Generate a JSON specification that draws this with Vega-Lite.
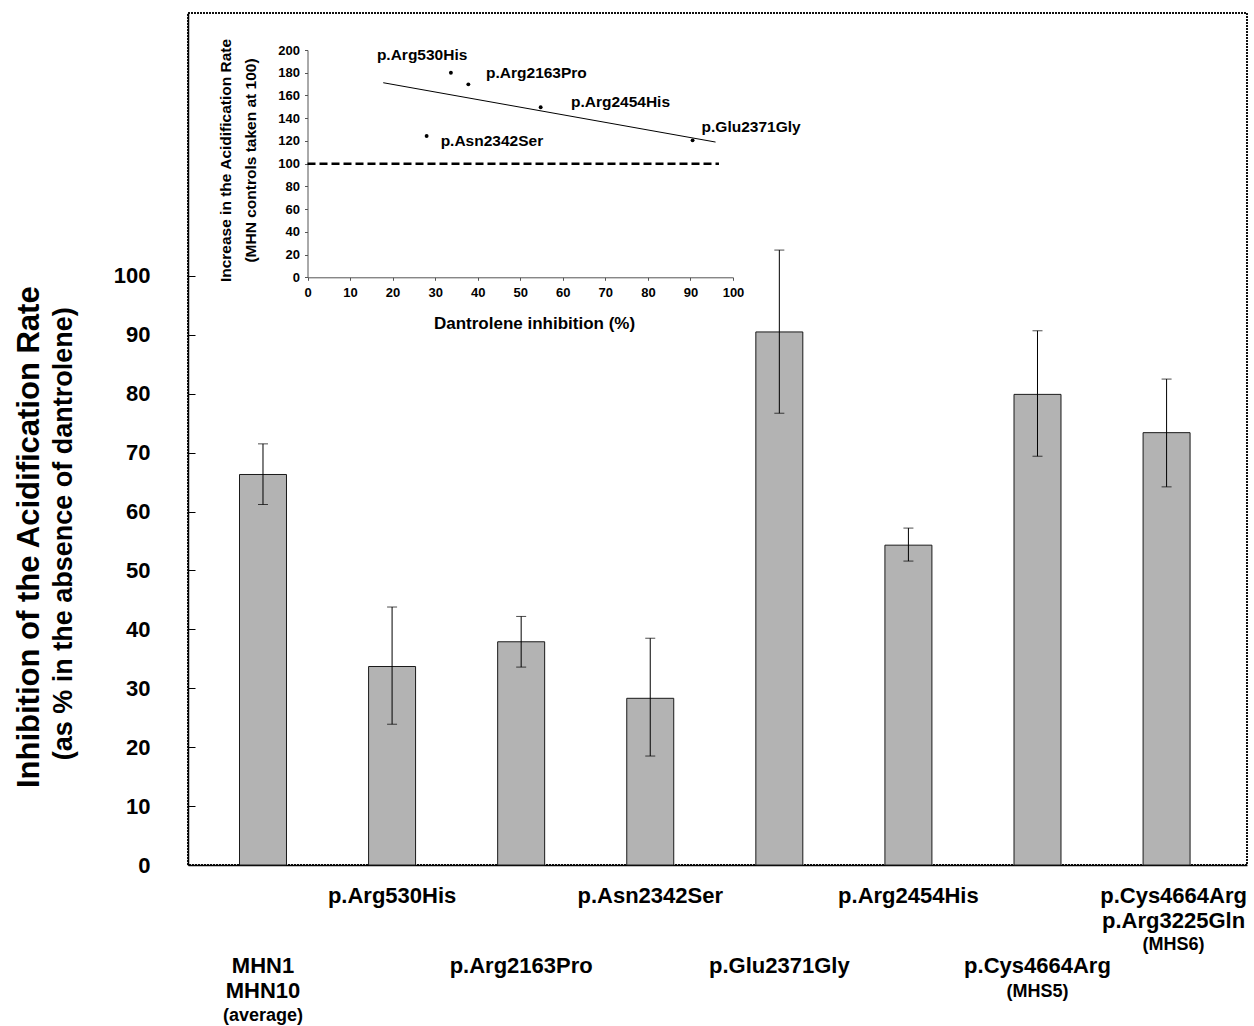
{
  "$schema": "https://vega.github.io/schema/vega-lite/v6.json",
  "width": 1059,
  "height": 852,
  "autosize": {"type": "none"},
  "padding": {"left": 188, "top": 13, "right": 7, "bottom": 161},
  "background": "white",
  "config": {
    "font": "Liberation Sans",
    "view": {"stroke": "#111111", "strokeWidth": 2, "strokeDash": [2, 1]},
    "axis": {
      "labelFont": "Liberation Sans",
      "titleFont": "Liberation Sans",
      "labelFontWeight": "bold",
      "titleFontWeight": "bold",
      "labelColor": "black",
      "titleColor": "black",
      "grid": false
    }
  },
  "datasets": {
    "bars": [
      {"group": "MHN1 MHN10 (average)", "value": 66.3, "lo": 61.2, "hi": 71.5},
      {"group": "p.Arg530His", "value": 33.7, "lo": 23.9, "hi": 43.8},
      {"group": "p.Arg2163Pro", "value": 37.9, "lo": 33.6, "hi": 42.2},
      {"group": "p.Asn2342Ser", "value": 28.3, "lo": 18.5, "hi": 38.5},
      {"group": "p.Glu2371Gly", "value": 90.5, "lo": 76.7, "hi": 104.4},
      {"group": "p.Arg2454His", "value": 54.3, "lo": 51.6, "hi": 57.2},
      {"group": "p.Cys4664Arg (MHS5)", "value": 79.9, "lo": 69.4, "hi": 90.7},
      {"group": "p.Cys4664Arg p.Arg3225Gln (MHS6)", "value": 73.4, "lo": 64.2, "hi": 82.5}
    ],
    "inset": [
      {"kind": "point", "name": "p.Arg530His", "dantrolene": 33.7, "increase": 180},
      {"kind": "point", "name": "p.Arg2163Pro", "dantrolene": 37.8, "increase": 169.8},
      {"kind": "point", "name": "p.Arg2454His", "dantrolene": 54.8, "increase": 149.6},
      {"kind": "point", "name": "p.Glu2371Gly", "dantrolene": 90.5, "increase": 120.5},
      {"kind": "point", "name": "p.Asn2342Ser", "dantrolene": 28, "increase": 124.3},
      {"kind": "fit", "name": "fit", "dantrolene": 17.8, "increase": 171.2},
      {"kind": "fit", "name": "fit", "dantrolene": 95.9, "increase": 119.0},
      {"kind": "ref", "name": "ref", "dantrolene": 0, "increase": 100},
      {"kind": "ref", "name": "ref", "dantrolene": 96.7, "increase": 100}
    ]
  },
  "layer": [
    {
      "data": {"name": "bars"},
      "layer": [
        {
          "mark": {"type": "bar", "fill": "#b3b3b3", "stroke": "#1a1a1a", "strokeWidth": 1},
          "encoding": {
            "x": {
              "field": "group", "type": "nominal", "sort": null,
              "scale": {"paddingInner": 0.636, "paddingOuter": 0.42, "align": 0.475},
              "axis": {
                "orient": "bottom", "title": null, "domain": true, "domainColor": "black", "domainWidth": 1.5,
                "ticks": false, "labelAngle": 0, "labelFontSize": 22, "labelBaseline": "top", "labelAlign": "center",
                "labelLineHeight": 25, "labelOverlap": false, "labelBound": false, "labelFlush": false, "labelLimit": 400,
                "labelPadding": {"condition": {"test": "indexof(['MHN1 MHN10 (average)', 'p.Arg2163Pro', 'p.Glu2371Gly', 'p.Cys4664Arg (MHS5)'], datum.value) >= 0", "value": 90.5}, "value": 20.5},
                "labelOffset": {"condition": {"test": "datum.value == 'p.Cys4664Arg p.Arg3225Gln (MHS6)'", "value": 7}, "value": 0},
                "labelExpr": "datum.value == 'MHN1 MHN10 (average)' ? ['MHN1', 'MHN10'] : datum.value == 'p.Cys4664Arg p.Arg3225Gln (MHS6)' ? ['p.Cys4664Arg', 'p.Arg3225Gln'] : datum.value == 'p.Cys4664Arg (MHS5)' ? 'p.Cys4664Arg' : datum.value"
              }
            },
            "y": {
              "field": "value", "type": "quantitative",
              "scale": {"domain": [0, 144.65], "nice": false, "zero": true},
              "axis": {
                "orient": "left", "title": "Inhibition of the Acidification Rate", "titleFontSize": 31,
                "titleX": -149.7, "titleY": 523.7, "titleAngle": -90, "titleBaseline": "alphabetic", "titleAlign": "center",
                "values": [0, 10, 20, 30, 40, 50, 60, 70, 80, 90, 100],
                "domain": true, "domainColor": "black", "domainWidth": 1.5,
                "ticks": true, "tickSize": -7, "tickColor": "black", "tickWidth": 1,
                "labelFontSize": 22, "labelPadding": 45, "labelAlign": "right", "labelBaseline": "middle"
              }
            }
          }
        },
        {
          "mark": {"type": "rule", "color": "black", "strokeWidth": 1},
          "encoding": {
            "x": {
              "field": "group", "type": "nominal", "sort": null,
              "axis": {
                "orient": "bottom", "title": null, "domain": false, "ticks": false, "labelAngle": 0,
                "labelFontSize": 18, "labelBaseline": "top", "labelAlign": "center",
                "labelOverlap": false, "labelBound": false, "labelFlush": false, "labelLimit": 400,
                "labelPadding": {"condition": [{"test": "datum.value == 'MHN1 MHN10 (average)'", "value": 141}, {"test": "datum.value == 'p.Cys4664Arg (MHS5)'", "value": 117}], "value": 70},
                "labelOffset": {"condition": {"test": "datum.value == 'p.Cys4664Arg p.Arg3225Gln (MHS6)'", "value": 7}, "value": 0},
                "labelExpr": "datum.value == 'MHN1 MHN10 (average)' ? '(average)' : datum.value == 'p.Cys4664Arg (MHS5)' ? '(MHS5)' : datum.value == 'p.Cys4664Arg p.Arg3225Gln (MHS6)' ? '(MHS6)' : ''"
              }
            },
            "y": {
              "field": "lo", "type": "quantitative",
              "scale": {"domain": [0, 144.65], "nice": false, "zero": true},
              "axis": {
                "orient": "left", "title": "(as % in the absence of dantrolene)", "titleFontSize": 27,
                "titleX": -116.3, "titleY": 520.3, "titleAngle": -90, "titleBaseline": "alphabetic", "titleAlign": "center",
                "domain": false, "ticks": false, "labels": false
              }
            },
            "y2": {"field": "hi"}
          }
        },
        {
          "mark": {"type": "tick", "color": "black", "size": 10, "thickness": 1},
          "encoding": {
            "x": {"field": "group", "type": "nominal", "sort": null, "axis": null},
            "y": {"field": "hi", "type": "quantitative", "scale": {"domain": [0, 144.65], "nice": false, "zero": true}, "axis": null}
          }
        },
        {
          "mark": {"type": "tick", "color": "black", "size": 10, "thickness": 1},
          "encoding": {
            "x": {"field": "group", "type": "nominal", "sort": null, "axis": null},
            "y": {"field": "lo", "type": "quantitative", "scale": {"domain": [0, 144.65], "nice": false, "zero": true}, "axis": null}
          }
        }
      ],
      "resolve": {"axis": {"x": "independent", "y": "independent"}}
    },
    {
      "data": {"name": "inset"},
      "layer": [
        {
          "transform": [{"filter": "datum.kind == 'ref'"}],
          "mark": {"type": "line", "color": "black", "strokeWidth": 2.5, "strokeDash": [8, 4]},
          "encoding": {
            "x": {
              "field": "dantrolene", "type": "quantitative",
              "scale": {"domain": [0, 100], "range": [119.5, 545], "nice": false, "zero": true},
              "axis": {
                "orient": "bottom", "offset": -587.7, "values": [0, 10, 20, 30, 40, 50, 60, 70, 80, 90, 100],
                "domainColor": "#555555", "tickColor": "#555555", "tickSize": 3, "labelFontSize": 13, "labelPadding": 6.5,
                "labelFlush": false, "labelOverlap": false,
                "title": "Dantrolene inhibition (%)", "titleFontSize": 17, "titleX": 346, "titleY": 38.4, "titleBaseline": "top", "titleAlign": "center"
              }
            },
            "y": {
              "field": "increase", "type": "quantitative",
              "scale": {"domain": [0, 200], "range": [264.3, 37], "nice": false, "zero": true},
              "axis": {
                "orient": "left", "offset": -119.5, "values": [0, 20, 40, 60, 80, 100, 120, 140, 160, 180, 200],
                "domainColor": "#555555", "tickColor": "#555555", "tickSize": 3, "labelFontSize": 13, "labelPadding": 5,
                "labelFlush": false, "labelOverlap": false,
                "title": ["Increase in the Acidification Rate", "(MHN controls taken at 100)"], "titleFontSize": 15.5,
                "titleLineHeight": 25, "titleX": -77.5, "titleY": 147, "titleAngle": -90, "titleBaseline": "alphabetic", "titleAlign": "center"
              }
            }
          }
        },
        {
          "transform": [{"filter": "datum.kind == 'fit'"}],
          "mark": {"type": "line", "color": "black", "strokeWidth": 1},
          "encoding": {
            "x": {"field": "dantrolene", "type": "quantitative"},
            "y": {"field": "increase", "type": "quantitative"}
          }
        },
        {
          "transform": [{"filter": "datum.kind == 'point'"}],
          "mark": {"type": "circle", "color": "black", "size": 15, "opacity": 1},
          "encoding": {
            "x": {"field": "dantrolene", "type": "quantitative"},
            "y": {"field": "increase", "type": "quantitative"}
          }
        },
        {
          "transform": [{"filter": "datum.name == 'p.Arg530His'"}],
          "mark": {"type": "text", "align": "left", "baseline": "middle", "fontSize": 15.5, "fontWeight": "bold", "color": "black", "dx": -74, "dy": -17.7},
          "encoding": {
            "x": {"field": "dantrolene", "type": "quantitative"},
            "y": {"field": "increase", "type": "quantitative"},
            "text": {"field": "name"}
          }
        },
        {
          "transform": [{"filter": "datum.name == 'p.Arg2163Pro'"}],
          "mark": {"type": "text", "align": "left", "baseline": "middle", "fontSize": 15.5, "fontWeight": "bold", "color": "black", "dx": 17.7, "dy": -11.6},
          "encoding": {
            "x": {"field": "dantrolene", "type": "quantitative"},
            "y": {"field": "increase", "type": "quantitative"},
            "text": {"field": "name"}
          }
        },
        {
          "transform": [{"filter": "datum.name == 'p.Arg2454His'"}],
          "mark": {"type": "text", "align": "left", "baseline": "middle", "fontSize": 15.5, "fontWeight": "bold", "color": "black", "dx": 30.3, "dy": -5.6},
          "encoding": {
            "x": {"field": "dantrolene", "type": "quantitative"},
            "y": {"field": "increase", "type": "quantitative"},
            "text": {"field": "name"}
          }
        },
        {
          "transform": [{"filter": "datum.name == 'p.Glu2371Gly'"}],
          "mark": {"type": "text", "align": "left", "baseline": "middle", "fontSize": 15.5, "fontWeight": "bold", "color": "black", "dx": 9, "dy": -13},
          "encoding": {
            "x": {"field": "dantrolene", "type": "quantitative"},
            "y": {"field": "increase", "type": "quantitative"},
            "text": {"field": "name"}
          }
        },
        {
          "transform": [{"filter": "datum.name == 'p.Asn2342Ser'"}],
          "mark": {"type": "text", "align": "left", "baseline": "middle", "fontSize": 15.5, "fontWeight": "bold", "color": "black", "dx": 14, "dy": 5},
          "encoding": {
            "x": {"field": "dantrolene", "type": "quantitative"},
            "y": {"field": "increase", "type": "quantitative"},
            "text": {"field": "name"}
          }
        }
      ]
    }
  ],
  "resolve": {
    "scale": {"x": "independent", "y": "independent"},
    "axis": {"x": "independent", "y": "independent"}
  }
}
